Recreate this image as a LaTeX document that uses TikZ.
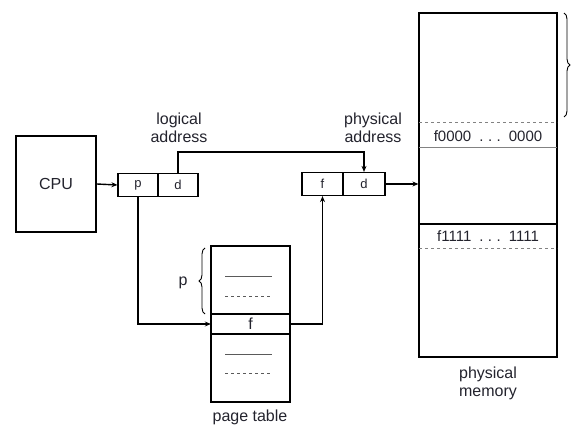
\documentclass[tikz,border=0pt]{standalone}
\usepackage{fontspec}
\setmainfont{Liberation Sans}
\usetikzlibrary{arrows.meta,decorations.pathreplacing,calc}
\definecolor{labelcol}{RGB}{35,35,45}
\definecolor{memline}{RGB}{130,130,130}
\definecolor{ghost}{RGB}{90,90,90}
\newcommand{\memdots}{\hspace{8pt}.\hspace{4.5pt}.\hspace{4.5pt}.\hspace{8pt}}

\begin{document}
\begin{tikzpicture}[x=1pt, y=1pt,
    every node/.style={font=\fontsize{16}{18}\selectfont, text=labelcol},
    cell/.style={draw, line width=1.2pt, minimum width=40pt, minimum height=23pt,
      inner sep=0pt, font=\fontsize{13}{15}\selectfont},
    link/.style={line width=1.4pt, -{Stealth[length=6pt,width=5pt]}},
    brc/.style={decorate, decoration={brace, amplitude=6pt}, line width=0.9pt}]

    \useasboundingbox (0,0) rectangle (577,427);

    %% CPU and logical address
    \node[draw, line width=1.2pt, minimum width=80pt, minimum height=96pt] (cpu) at (56,243) {CPU};
    \node[cell] (lp) at (138,242) {p};
    \node[cell] (ld) at (178,242) {d};
    \node[align=center] (lalabel) at (179,299) {logical\\address};

    %% physical address
    \node[cell, minimum width=41pt] (pf) at (322.5,243) {f};
    \node[cell, minimum width=42pt] (pd) at (364,243) {d};
    \node[align=center] (palabel) at (373,299) {physical\\address};

    %% page table
    \node[draw, line width=1.2pt, minimum width=79pt, minimum height=156pt] (pt) at (250.5,103) {};
    \draw[line width=1.2pt] (211,113) -- (290,113);
    \draw[line width=1.2pt] (211,93) -- (290,93);
    \node[minimum width=79pt, minimum height=20pt, inner sep=0pt] (ptf) at (250.5,103) {f};
    \draw[ghost, thin] (225,151) -- (272,151);
    \draw[ghost, thin, dashed] (225,131) -- (272,131);
    \draw[ghost, thin] (225,73) -- (272,73);
    \draw[ghost, thin, dashed] (225,54) -- (272,54);
    \draw[brc] (205,113) -- (205,179);
    \node (plabel) at (183,144) {p};
    \node (ptlabel) at (250,10) {page table};

    %% physical memory
    \node[draw, line width=1.2pt, minimum width=138pt, minimum height=344pt] (mem) at (488,242) {};
    \draw[memline, dashed] (419,305) -- (557,305);
    \draw[memline] (419,280) -- (557,280);
    \node[font=\fontsize{15}{17}\selectfont] (frow0) at (488,291) {f0000\memdots0000};
    \draw[line width=1.2pt] (419,203) -- (557,203);
    \draw[memline, dashed] (419,179) -- (557,179);
    \node[font=\fontsize{15}{17}\selectfont] (frow1) at (488,191) {f1111\memdots1111};
    \draw[brc] (564,414) -- (564,310);
    \node[align=center] (memlabel) at (488,44) {physical\\memory};

    %% connectors
    \coordinate (bend) at (0,275);
    \draw[link] (cpu.east) -- (lp.west);
    \draw[link] (ld.north) |- (bend -| pd.north) -- (pd.north);
    \draw[link] (lp.south) |- (ptf.west);
    \draw[link] (ptf.east) -| (pf.south);
    \draw[link] (pd.east) -- (pd.east -| mem.west);

\end{tikzpicture}
\end{document}
